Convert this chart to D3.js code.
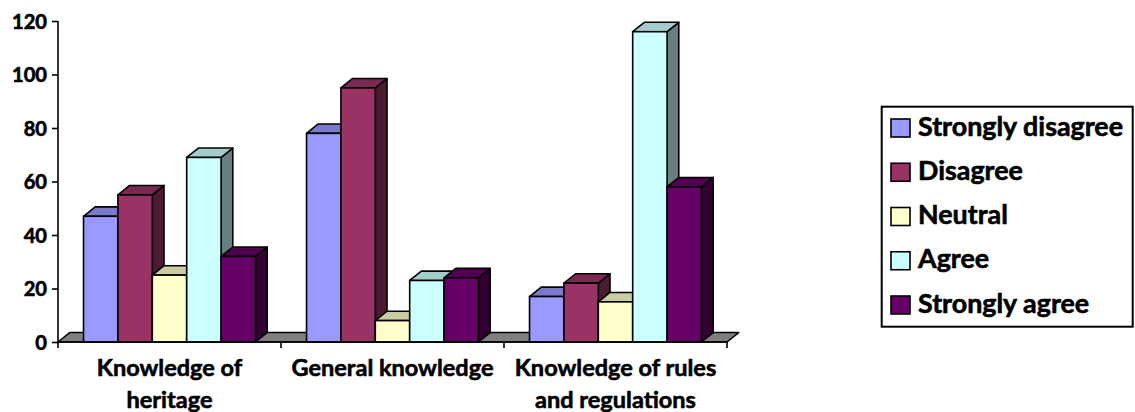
<!DOCTYPE html>
<html>
<head>
<meta charset="utf-8">
<script src="https://cdn.jsdelivr.net/npm/d3@7"></script>
<style>
  html, body { margin: 0; padding: 0; background: #ffffff; }
  svg { display: block; }
  text { font-family: Lato, "Open Sans", "Liberation Sans", sans-serif; font-weight: bold; fill: #000; stroke: #000; stroke-width: 0.6px; }
</style>
</head>
<body>
<svg id="chart" width="1135" height="412"></svg>
<script>
// ---- data ----
const categories = ["Knowledge of\nheritage", "General knowledge", "Knowledge of rules\nand regulations"];
const seriesNames = ["Strongly disagree", "Disagree", "Neutral", "Agree", "Strongly agree"];
const strongDisagree = [47, 78, 17];
const disagree = [55, 95, 22];
const neutral = [25, 8, 15];
const agree = [69, 23, 116];
const strongAgree = [32, 24, 58];
const yTicks = [0, 20, 40, 60, 80, 100, 120];
const seriesColors = ["#9999FF", "#993366", "#FFFFCC", "#CCFFFF", "#660066"];

const seriesValues = [strongDisagree, disagree, neutral, agree, strongAgree];

// ---- layout ----
const svg = d3.select("#chart");
const plot = { left: 58, right: 727, top: 21, bottom: 342 };
const depth = { dx: 11.7, dy: -9.4 };
const clusterFrac = 0.771;

const x0 = d3.scaleBand().domain(d3.range(categories.length)).range([plot.left, plot.right]).padding(0);
const bw = x0.bandwidth();
const x1 = d3.scaleBand().domain(d3.range(seriesNames.length))
  .range([(bw - bw * clusterFrac) / 2, (bw + bw * clusterFrac) / 2]).padding(0);
const y = d3.scaleLinear().domain([0, 120]).range([plot.bottom, plot.top]);

function shade(c, k) {
  const r = d3.rgb(c);
  return d3.rgb(r.r * k, r.g * k, r.b * k).formatHex();
}

function fitSize(text, target) {
  const t = svg.append("text").attr("font-size", 100).text(text);
  const w = t.node().getComputedTextLength();
  t.remove();
  return 100 * target / w;
}

const catSize = fitSize("General knowledge", 202);
const tickSize = fitSize("120", 35);
const legSize = fitSize("Strongly disagree", 205);

// ---- floor ----
const fy = y(0);
svg.append("polygon")
  .attr("points", [
    [plot.left, fy], [plot.right, fy],
    [plot.right + depth.dx, fy + depth.dy], [plot.left + depth.dx, fy + depth.dy]
  ].map(p => p.join(",")).join(" "))
  .attr("fill", "#808080").attr("stroke", "#000").attr("stroke-width", 1.5)
  .attr("stroke-linejoin", "round");

// ---- bars ----
const bars = svg.append("g");
categories.forEach((c, ci) => {
  seriesNames.forEach((s, si) => {
    const v = seriesValues[si][ci];
    const xl = x0(ci) + x1(si);
    const xr = xl + x1.bandwidth();
    const yt = y(v), yb = y(0);
    const col = seriesColors[si];
    const g = bars.append("g");
    g.append("polygon")
      .attr("points", [[xr, yt], [xr + depth.dx, yt + depth.dy], [xr + depth.dx, yb + depth.dy], [xr, yb]].map(p => p.join(",")).join(" "))
      .attr("fill", shade(col, 0.5)).attr("stroke", "#000").attr("stroke-width", 1.6).attr("stroke-linejoin", "round");
    g.append("polygon")
      .attr("points", [[xl, yt], [xl + depth.dx, yt + depth.dy], [xr + depth.dx, yt + depth.dy], [xr, yt]].map(p => p.join(",")).join(" "))
      .attr("fill", shade(col, 0.8)).attr("stroke", "#000").attr("stroke-width", 1.6).attr("stroke-linejoin", "round");
    g.append("rect")
      .attr("x", xl).attr("y", yt).attr("width", xr - xl).attr("height", yb - yt)
      .attr("fill", col).attr("stroke", "#000").attr("stroke-width", 1.6);
  });
});

// ---- axes ----
const yAxis = d3.axisLeft(y).tickValues(yTicks).tickSize(6).tickPadding(5).tickFormat(d3.format("d"));
const yg = svg.append("g").attr("transform", `translate(${plot.left},0)`).call(yAxis);
yg.select(".domain").attr("d", `M0,${y(120)}V${y(0)}`).attr("stroke", "#000").attr("stroke-width", 1.6);
yg.selectAll(".tick line").attr("stroke", "#000").attr("stroke-width", 1.6);
yg.selectAll(".tick text").attr("font-size", tickSize).attr("font-family", null).attr("dy", "0.36em");

const xAxis = svg.append("g");
xAxis.append("line").attr("x1", plot.left).attr("x2", plot.right).attr("y1", y(0)).attr("y2", y(0))
  .attr("stroke", "#000").attr("stroke-width", 1.6);
const bounds = categories.map((c, i) => x0(i)).concat([plot.right]);
xAxis.selectAll("line.tk").data(bounds).join("line").attr("class", "tk")
  .attr("x1", d => d).attr("x2", d => d).attr("y1", y(0)).attr("y2", y(0) + 6)
  .attr("stroke", "#000").attr("stroke-width", 1.6);

const catBaselines = [375.5, 407.5];
categories.forEach((c, i) => {
  const lines = c.split("\n");
  const t = svg.append("text").attr("text-anchor", "middle").attr("font-size", catSize);
  lines.forEach((ln, li) => {
    t.append("tspan").attr("x", x0(i) + bw / 2).attr("y", catBaselines[li]).text(ln);
  });
});

// ---- legend ----
const leg = svg.append("g");
leg.append("rect").attr("x", 881.7).attr("y", 106.7).attr("width", 251).attr("height", 220)
  .attr("fill", "#fff").attr("stroke", "#000").attr("stroke-width", 2);
const ly = d3.scalePoint().domain(seriesNames).range([128, 305]);
seriesNames.forEach((s, i) => {
  leg.append("rect").attr("x", 891).attr("y", ly(s) - 9).attr("width", 19).attr("height", 18)
    .attr("fill", seriesColors[i]).attr("stroke", "#000").attr("stroke-width", 1.6);
  leg.append("text").attr("x", 918).attr("y", ly(s) - 2).attr("dy", "0.36em")
    .attr("font-size", legSize).text(s);
});
</script>
</body>
</html>
